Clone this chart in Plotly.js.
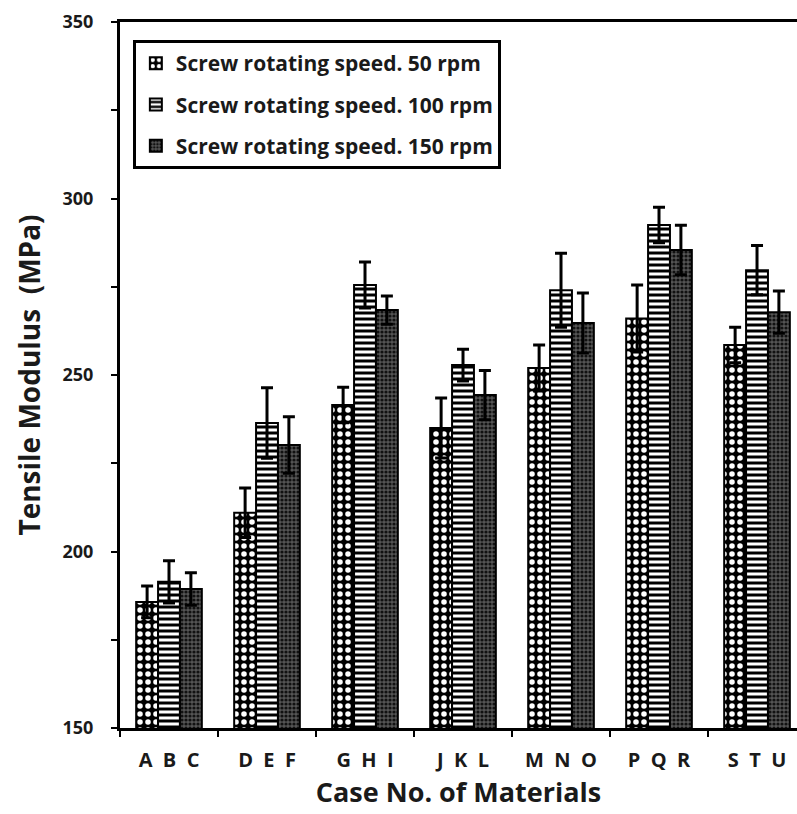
<!DOCTYPE html>
<html>
<head>
<meta charset="utf-8">
<script src="https://cdn.plot.ly/plotly-3.0.1.min.js"></script>
<style>html,body{margin:0;padding:0;background:#fff;}#chart{width:797px;height:814px;}</style>
</head>
<body>
<div id="chart"></div>
<script>
var groups = ["A B C", "D E F", "G H I", "J K L", "M N O", "P Q R", "S T U"];
var seriesNames = ["Screw rotating speed. 50 rpm", "Screw rotating speed. 100 rpm", "Screw rotating speed. 150 rpm"];
var speed50 = [185.7, 211.0, 241.5, 235.0, 252.0, 266.0, 258.5];
var err50 = [4.5, 7.0, 5.0, 8.5, 6.5, 9.5, 5.0];
var speed100 = [191.4, 236.4, 275.5, 252.8, 274.0, 292.5, 279.7];
var err100 = [6.0, 10.0, 6.5, 4.5, 10.5, 5.0, 7.0];
var speed150 = [189.4, 230.2, 268.4, 244.3, 264.7, 285.4, 267.8];
var err150 = [4.6, 8.0, 4.0, 7.0, 8.5, 7.0, 6.0];
var yTickVals = [150, 200, 250, 300, 350];

var FONT = "Open Sans, DejaVu Sans, sans-serif";
var TXT = "#1a1a1a";

// spaced labels for display (letters widely spaced as in the original)
var groupLabels = groups.map(function (g) { return g.split(" ").join("\u00a0\u00a0"); });

function mk(name, vals, errs, fill, pattern, grp) {
  return {
    type: "bar", name: name, x: groups, y: vals,
    legendgroup: grp,
    marker: { color: fill, line: { color: "#000", width: 2 }, pattern: pattern },
    error_y: { type: "data", array: errs, visible: true, color: "#000", thickness: 3, width: 6 }
  };
}

var traces = [
  mk(seriesNames[0], speed50, err50, "#000", { shape: ".", bgcolor: "#000", fgcolor: "#fff", size: 8, solidity: 0.38 }, "g1"),
  mk(seriesNames[1], speed100, err100, "#fff", { shape: "-", bgcolor: "#fff", fgcolor: "#000", size: 6, solidity: 0.5 }, "g2"),
  mk(seriesNames[2], speed150, err150, "#555", { shape: ".", bgcolor: "#555", fgcolor: "#111", size: 4, solidity: 0.5 }, "g3")
];

var layout = {
  width: 797, height: 814,
  margin: { l: 120, r: 0, t: 22, b: 86 },
  paper_bgcolor: "#fff", plot_bgcolor: "#fff",
  barmode: "group", bargap: 0.33, bargroupgap: 0,
  showlegend: true,
  legend: {
    x: 0.019, y: 0.9745, xanchor: "left", yanchor: "top",
    bgcolor: "#fff", bordercolor: "#000", borderwidth: 3,
    traceorder: "grouped", tracegroupgap: 11,
    itemwidth: 30,
    font: { family: FONT, size: 21, color: TXT, weight: "bold" }
  },
  xaxis: {
    type: "category",
    range: [-0.5, 6.408],
    tickmode: "array", tickvals: groups, ticktext: groupLabels,
    showline: true, linecolor: "#000", linewidth: 3, mirror: true,
    ticks: "outside", tickson: "boundaries", ticklen: 6, tickwidth: 2, tickcolor: "#000",
    ticklabelstandoff: 12,
    showgrid: false, zeroline: false,
    tickfont: { family: FONT, size: 20, color: TXT, weight: "bold" },
    title: { text: "Case No. of Materials", font: { family: FONT, size: 27, color: TXT, weight: "bold" }, standoff: 10 }
  },
  yaxis: {
    range: [150, 350],
    tickmode: "array", tickvals: yTickVals,
    showline: true, linecolor: "#000", linewidth: 3, mirror: false,
    ticks: "outside", ticklen: 6, tickwidth: 2, tickcolor: "#000",
    minor: { dtick: 25, ticks: "outside", ticklen: 6, tickwidth: 2, tickcolor: "#000", showgrid: false },
    showgrid: false, zeroline: false,
    ticklabelstandoff: 14,
    tickfont: { family: FONT, size: 18, color: TXT, weight: "bold" },
    title: { text: "Tensile Modulus  (MPa)", font: { family: FONT, size: 28, color: TXT, weight: "bold" }, standoff: 14 }
  }
};

Plotly.newPlot("chart", traces, layout, { displayModeBar: false, staticPlot: true });
</script>
</body>
</html>
